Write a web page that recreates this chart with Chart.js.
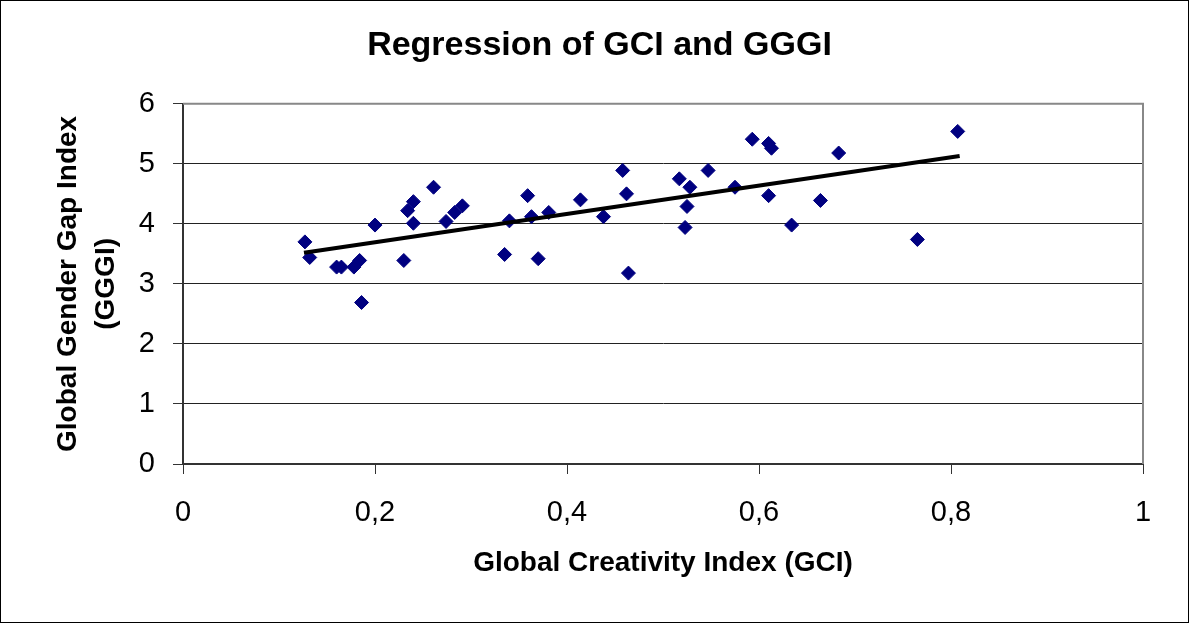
<!DOCTYPE html>
<html>
<head>
<meta charset="utf-8">
<script src="https://cdn.jsdelivr.net/npm/chart.js@4"></script>
<style>
  body { margin: 0; background: #fff; }
  #wrap { width: 1189px; height: 623px; box-sizing: border-box; border: 1px solid #000; }
  canvas { display: block; }
</style>
</head>
<body>
<div id="wrap">
  <canvas id="gci-gggi-chart" width="1187" height="621"></canvas>
</div>
<script>
// GCI (x) and GGGI (y) per country
const gci = [0.127, 0.132, 0.160, 0.165, 0.178, 0.184, 0.186, 0.200, 0.230, 0.234,
             0.240, 0.240, 0.261, 0.274, 0.283, 0.291, 0.335, 0.340, 0.359, 0.363,
             0.370, 0.381, 0.414, 0.438, 0.458, 0.462, 0.464, 0.517, 0.528, 0.525,
             0.523, 0.547, 0.575, 0.593, 0.610, 0.613, 0.610, 0.634, 0.664, 0.683,
             0.765, 0.807];
const gggi = [3.70, 3.44, 3.28, 3.28, 3.28, 3.39, 2.69, 3.98, 3.39, 4.22,
              4.37, 4.01, 4.61, 4.04, 4.19, 4.30, 3.49, 4.05, 4.47, 4.12,
              3.42, 4.19, 4.40, 4.12, 4.89, 4.50, 3.18, 4.75, 4.61, 4.29,
              3.94, 4.89, 4.61, 5.41, 5.34, 5.26, 4.47, 3.98, 4.39, 5.18,
              3.74, 5.54];

// regression line end points
const trendX = [0.126, 0.809];
const trendY = [3.52, 5.13];

const xTickLabels = ['0', '0,2', '0,4', '0,6', '0,8', '1'];
const yTickLabels = ['0', '1', '2', '3', '4', '5', '6'];

const FONT = "'Liberation Sans', Arial, sans-serif";

const points = gci.map((x, i) => ({x: x, y: gggi[i]}));
const trend = trendX.map((x, i) => ({x: x, y: trendY[i]}));

// grey frame on the top and right of the plot area
const plotFrame = {
    id: 'plotFrame',
    beforeDatasetsDraw(chart) {
        const {ctx, chartArea: a} = chart;
        ctx.save();
        ctx.strokeStyle = '#888';
        ctx.lineWidth = 2;
        ctx.beginPath();
        ctx.moveTo(a.left, a.top);
        ctx.lineTo(a.right, a.top);
        ctx.lineTo(a.right, a.bottom);
        ctx.stroke();
        ctx.restore();
    }
};

var ctx = document.getElementById('gci-gggi-chart').getContext('2d');
window.gciChart = new Chart(ctx, {
    type: 'scatter',
    data: {
        datasets: [
            {
                label: 'Trend',
                data: trend,
                showLine: true,
                borderColor: '#000',
                borderWidth: 4,
                pointRadius: 0,
                order: 0
            },
            {
                label: 'Countries',
                data: points,
                pointStyle: 'rectRot',
                pointRadius: 7,
                pointBackgroundColor: '#000080',
                pointBorderColor: '#000080',
                pointBorderWidth: 1,
                order: 1
            }
        ]
    },
    options: {
        responsive: false,
        animation: false,
        layout: {
            padding: {left: 10, right: 0, top: 0, bottom: 0}
        },
        plugins: {
            legend: {display: false},
            tooltip: {enabled: false},
            title: {
                display: true,
                text: 'Regression of GCI and GGGI',
                color: '#000',
                font: {family: FONT, size: 34, weight: 'bold', lineHeight: 1.2},
                padding: {top: 24, bottom: 38}
            }
        },
        scales: {
            x: {
                type: 'linear',
                min: 0,
                max: 1,
                afterFit: s => { s.height = 158; },
                afterBuildTicks: s => {
                    s.ticks = xTickLabels.map((t, i) => ({value: i * 0.2}));
                },
                border: {color: '#333', width: 2},
                grid: {
                    drawOnChartArea: false,
                    drawTicks: true,
                    tickLength: 10,
                    tickColor: '#333'
                },
                ticks: {
                    color: '#000',
                    padding: 22,
                    maxRotation: 0,
                    autoSkip: false,
                    font: {family: FONT, size: 29},
                    callback: (v, i) => xTickLabels[i]
                },
                title: {
                    display: true,
                    text: 'Global Creativity Index (GCI)',
                    color: '#000',
                    font: {family: FONT, size: 28, weight: 'bold', lineHeight: 1.2},
                    padding: {top: 0, bottom: 42}
                }
            },
            y: {
                type: 'linear',
                min: 0,
                max: 6,
                afterFit: s => { s.width = 172; },
                afterBuildTicks: s => {
                    s.ticks = yTickLabels.map((t, i) => ({value: i}));
                },
                border: {color: '#333', width: 2},
                grid: {
                    color: c => c.tick && c.tick.value === 6 ? '#888' : '#222',
                    lineWidth: 1,
                    drawTicks: true,
                    tickLength: 10,
                    tickColor: '#333'
                },
                ticks: {
                    color: '#000',
                    padding: 18,
                    autoSkip: false,
                    font: {family: FONT, size: 29},
                    callback: (v, i) => yTickLabels[i]
                },
                title: {
                    display: true,
                    text: ['Global Gender Gap Index', '(GGGI)'],
                    color: '#000',
                    font: {family: FONT, size: 28, weight: 'bold', lineHeight: 1.34},
                    padding: {top: 39, bottom: 0}
                }
            },
            // empty right-hand strip so the title centres on the whole canvas
            yRight: {
                type: 'linear',
                position: 'right',
                min: 0,
                max: 6,
                afterFit: s => { s.width = 45; },
                border: {display: false},
                grid: {drawOnChartArea: false, drawTicks: false},
                ticks: {display: false}
            }
        }
    },
    plugins: [plotFrame]
});
</script>
</body>
</html>
